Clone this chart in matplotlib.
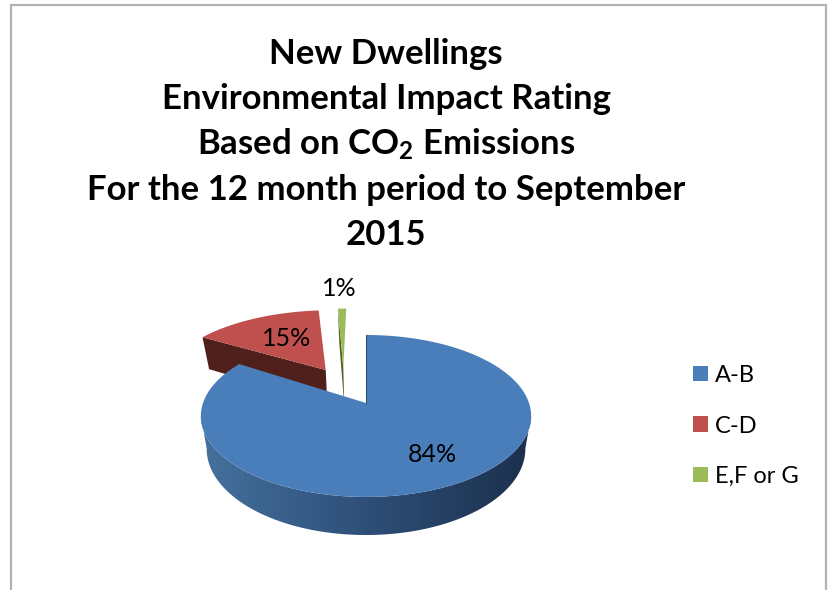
#!/usr/bin/env python
import numpy as np
import matplotlib
matplotlib.use('Agg')
from matplotlib import pyplot as plt
from matplotlib.patches import Polygon, Patch
from matplotlib.colors import LinearSegmentedColormap

plt.rcParams['font.family'] = ['Lato', 'DejaVu Sans']
plt.rcParams['mathtext.fontset'] = 'custom'
plt.rcParams['mathtext.bf'] = 'Lato:bold'
plt.rcParams['mathtext.rm'] = 'Lato'

# data
categories = ['A-B', 'C-D', 'E,F or G']
values = [84, 15, 1]
labels = ['84%', '15%', '1%']
title_lines = ['New Dwellings', 'Environmental Impact Rating',
               r'Based on CO$\mathbf{_2}$ Emissions',
               'For the 12 month period to September', '2015']

# style
top_colors = ['#4a7ebb', '#c0504d', '#9bbb59']
wall_colors = ['#2f5078', '#4f1f1b', '#4f6228']
offsets = [(0, 0), (-0.265, 0.448), (-0.15, 0.48)]
label_pos = [(432, 454), (287, 338), (339, 288)]

cx, cy = 366, 403
a, b, k = 163, 78.9, 0.16
depth = 32


def project(u, v, z=0):
    # z is how far below the top face, 0-1
    w = 1 + k*v
    x = cx + a*u/w*(1 - 0.035*z)
    y = cy - b*v/w + depth*z/w
    return np.column_stack([x, y])


def wedge(start, stop, off, stretch=1):
    ang = np.radians(np.linspace(start, stop, 200))
    u = np.r_[0, stretch*np.sin(ang)] + off[0]
    v = np.r_[0, np.cos(ang)] + off[1]
    return project(u, v)


def radial_wall(angle, off, z=1, stretch=1):
    # wall under one straight edge of an exploded slice
    ang = np.radians(angle)
    ou, ov = stretch*np.sin(ang) + off[0], np.cos(ang) + off[1]
    return [project(off[0], off[1])[0], project(ou, ov)[0],
            project(ou, ov, z)[0], project(off[0], off[1], z)[0]]


fig = plt.figure(figsize=(8.31, 5.90), dpi=100)
ax = fig.add_axes([0, 0, 1, 1])
ax.axis('off')

# chart frame, open at the bottom
ax.plot([11, 11, 826, 826], [590, 5, 5, 590], color='#b2b2b2', lw=1.6,
        solid_joinstyle='miter')

edges = np.cumsum([0] + values)/np.sum(values)*360

# red slice, turned a little so it sits like the 3d one
s, e = edges[1] - 1.5, edges[2] - 1.5
ax.add_patch(Polygon(radial_wall(s, offsets[1], 1.15, 1.04), fc=wall_colors[1], ec='none', zorder=1))
ax.add_patch(Polygon(wedge(s, e, offsets[1], 1.04), fc=top_colors[1], ec='none', zorder=1.1))

# green slice: thin wall on its left edge then top
s, e = edges[2], edges[3]
ax.add_patch(Polygon(radial_wall(s, offsets[2], 1.3), fc=wall_colors[2], ec='none', zorder=1))
ax.add_patch(Polygon(wedge(s, e, offsets[2]), fc=top_colors[2], ec='none', zorder=1.1))

# blue rim, gradient image clipped to the side of the slice
# rim runs between the two points where the ellipse is widest
s, e = edges[0], edges[1]
rim = np.radians(np.linspace(99, 261, 240))
rim_outline = np.vstack([project(np.sin(rim), np.cos(rim)),
                         project(np.sin(rim[::-1]), np.cos(rim[::-1]), 1)])
shade = LinearSegmentedColormap.from_list('rim', ['#46729f', '#2e4f78', '#1b2f4b'])
img = ax.imshow(np.linspace(0, 1, 256)[None, :], cmap=shade, aspect='auto',
                extent=(195, 535, 545, 380), zorder=2)
clip = Polygon(rim_outline, transform=ax.transData, fc='none', ec='none')
ax.add_patch(clip)
img.set_clip_path(clip)
ax.add_patch(Polygon(wedge(s, e, offsets[0]), fc=top_colors[0], ec='none', zorder=3))
# thin dark inner edge at the top of the blue slice
ax.plot([cx, cx], [project(0, 1)[0, 1], cy], color='#2f5078', lw=0.8, zorder=3.1)

ax.set_xlim(0, 831)
ax.set_ylim(590, 0)

for lab, pos in zip(labels, label_pos):
    ax.text(pos[0], pos[1], lab, fontsize=18, color='black', ha='center', va='center', zorder=5)

for i, line in enumerate(title_lines):
    ax.text(386, 54 + i*45.3, line, fontsize=25, fontweight='bold', color='black',
            ha='center', va='center', zorder=5)

handles = [Patch(fc=c, ec='none') for c in top_colors]
leg = ax.legend(handles, categories, loc='upper left', bbox_to_anchor=(693/831, 1 - 365/590),
                frameon=False, fontsize=17, handlelength=0.635, handleheight=0.635,
                handletextpad=0.3, labelspacing=1.25, borderaxespad=0, borderpad=0)
leg.set_zorder(5)

fig.savefig('out.png', dpi=100)
